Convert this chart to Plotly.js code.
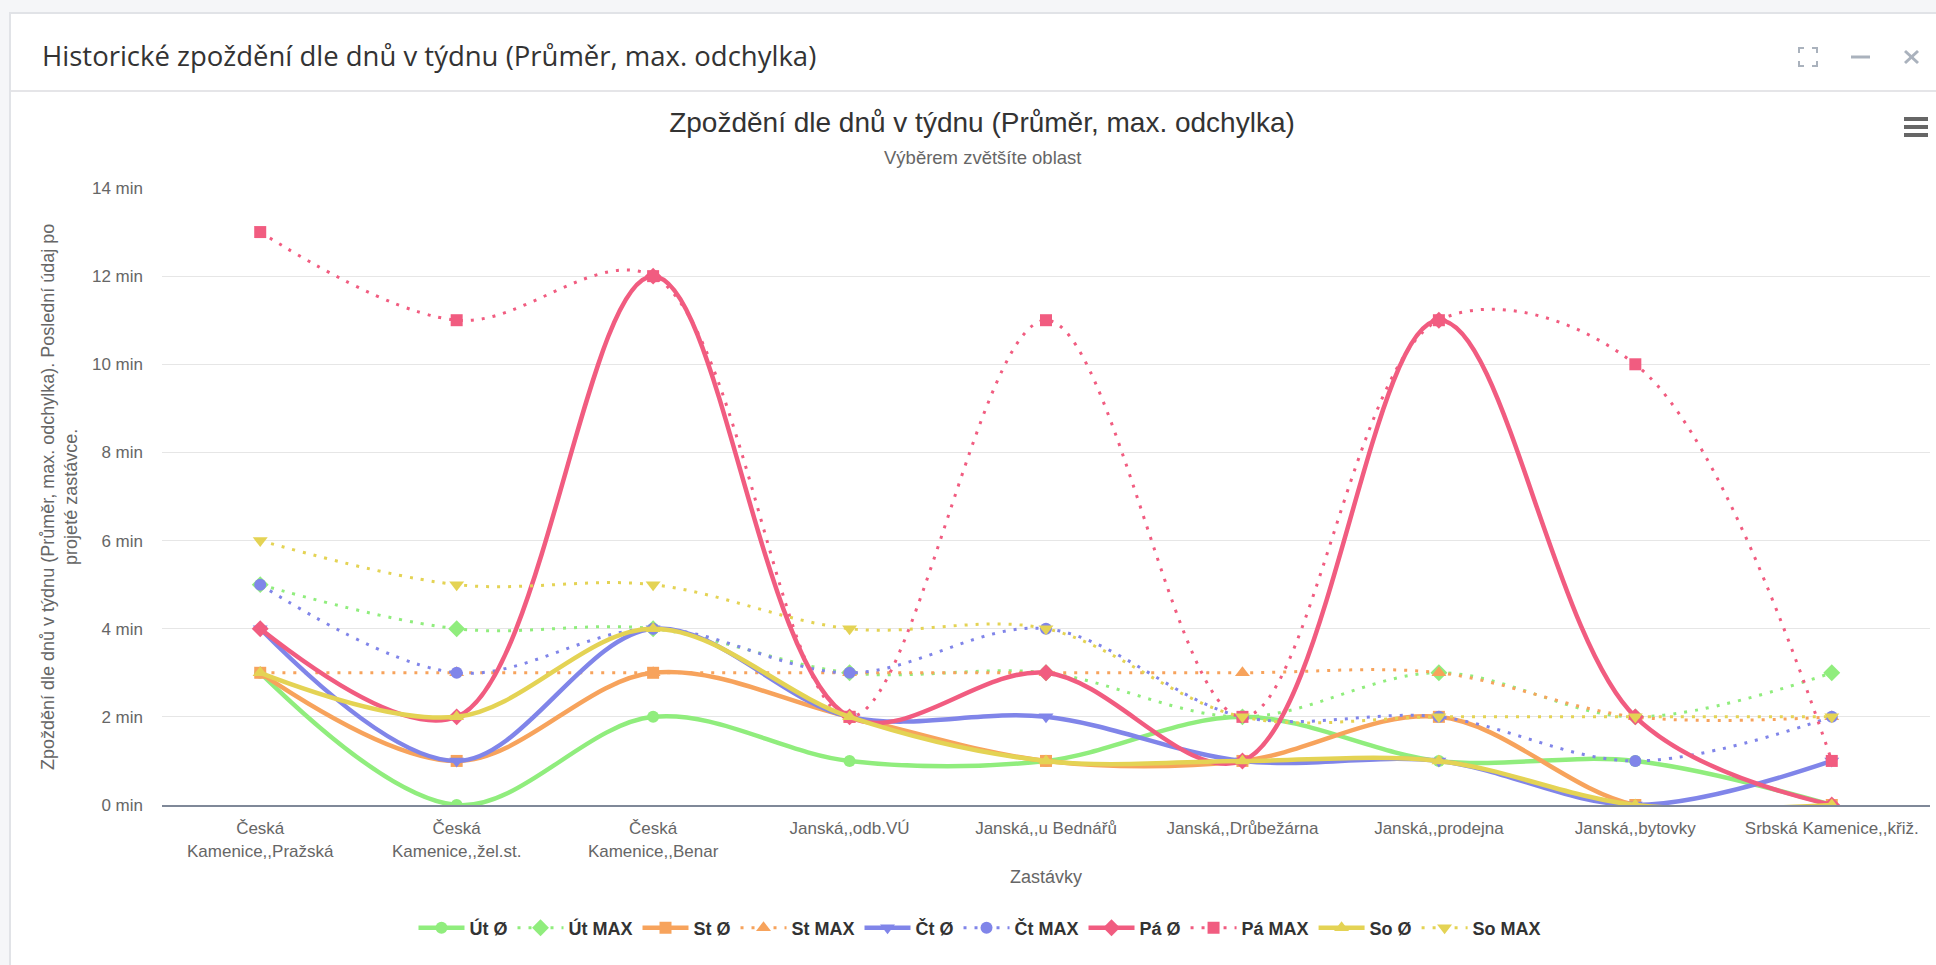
<!DOCTYPE html>
<html>
<head>
<meta charset="utf-8">
<script src="https://cdn.plot.ly/plotly-3.0.1.min.js"></script>
<style>
  html, body { margin: 0; padding: 0; background: #f5f6f8; }
  #chart { width: 1936px; height: 965px; }
</style>
</head>
<body>
<div id="chart"></div>
<script>
// ---- Data ----
const stops = [
  'Česká Kamenice,,Pražská', 'Česká Kamenice,,žel.st.', 'Česká Kamenice,,Benar',
  'Janská,,odb.VÚ', 'Janská,,u Bednářů', 'Janská,,Drůbežárna',
  'Janská,,prodejna', 'Janská,,bytovky', 'Srbská Kamenice,,křiž.'
];
const stopLabels = [
  'Česká<br>Kamenice,,Pražská', 'Česká<br>Kamenice,,žel.st.', 'Česká<br>Kamenice,,Benar',
  'Janská,,odb.VÚ', 'Janská,,u Bednářů', 'Janská,,Drůbežárna',
  'Janská,,prodejna', 'Janská,,bytovky', 'Srbská Kamenice,,křiž.'
];
const seriesNames = ['Út Ø', 'Út MAX', 'St Ø', 'St MAX', 'Čt Ø', 'Čt MAX', 'Pá Ø', 'Pá MAX', 'So Ø', 'So MAX'];
const utAvg = [3, 0, 2, 1, 1, 2, 1, 1, 0];
const utMax = [5, 4, 4, 3, 3, 2, 3, 2, 3];
const stAvg = [3, 1, 3, 2, 1, 1, 2, 0, 0];
const stMax = [3, 3, 3, 3, 3, 3, 3, 2, 2];
const ctAvg = [4, 1, 4, 2, 2, 1, 1, 0, 1];
const ctMax = [5, 3, 4, 3, 4, 2, 2, 1, 2];
const paAvg = [4, 2, 12, 2, 3, 1, 11, 2, 0];
const paMax = [13, 11, 12, 2, 11, 2, 11, 10, 1];
const soAvg = [3, 2, 4, 2, 1, 1, 1, 0, 0];
const soMax = [6, 5, 5, 4, 4, 2, 2, 2, 2];
const yTicks = [0, 2, 4, 6, 8, 10, 12, 14];
const yTickLabels = ['0 min', '2 min', '4 min', '6 min', '8 min', '10 min', '12 min', '14 min'];

// ---- Styles ----
const colors = ['#90ed7d', '#90ed7d', '#f7a35c', '#f7a35c', '#8085e9', '#8085e9', '#f15c80', '#f15c80', '#e4d354', '#e4d354'];
const symbols = ['circle', 'diamond', 'square', 'triangle-up', 'triangle-down', 'circle', 'diamond', 'square', 'triangle-up', 'triangle-down'];
const symbolSizes = { 'circle': 12, 'diamond': 13, 'square': 12, 'triangle-up': 13, 'triangle-down': 13 };
const values = [utAvg, utMax, stAvg, stMax, ctAvg, ctMax, paAvg, paMax, soAvg, soMax];

const W = 1936, H = 965;
const M = { l: 162, r: 6, t: 188, b: 160 };
const pw = W - M.l - M.r, ph = H - M.t - M.b;
const px = x => (x - M.l) / pw;
const py = y => (H - M.b - y) / ph;

const FONT = 'Liberation Sans, Arial, Helvetica, sans-serif';

const traces = values.map((v, i) => {
  const isMax = i % 2 === 1;
  return {
    type: 'scatter',
    mode: 'lines+markers',
    name: seriesNames[i],
    x: stops,
    y: v,
    line: {
      shape: 'spline', smoothing: 1,
      color: colors[i],
      width: isMax ? 3 : 4.5,
      dash: isMax ? '3px,8px' : 'solid'
    },
    marker: {
      symbol: symbols[i],
      color: colors[i],
      size: symbolSizes[symbols[i]],
      line: { width: 0 }
    },
    hoverinfo: 'x+y+name'
  };
});

const iconCol = '#aab2bd';
const line = (x0, y0, x1, y1, color, width) => ({
  type: 'line', xref: 'paper', yref: 'paper',
  x0: px(x0), y0: py(y0), x1: px(x1), y1: py(y1),
  line: { color: color, width: width }
});
const pathShape = (pts, color, width) => ({
  type: 'path', xref: 'paper', yref: 'paper',
  path: pts.map((p, k) => (k === 0 ? 'M' : 'L') + px(p[0]) + ',' + py(p[1])).join(' '),
  line: { color: color, width: width }
});

const shapes = [
  { type: 'rect', xref: 'paper', yref: 'paper', layer: 'below',
    x0: px(10), x1: px(1950), y0: py(13), y1: py(980),
    fillcolor: '#ffffff', line: { color: '#e1e3e7', width: 2 } },
  { type: 'line', xref: 'paper', yref: 'paper', layer: 'below',
    x0: px(11), x1: px(1936), y0: py(91), y1: py(91),
    line: { color: '#dcdde0', width: 1.5 } },
  pathShape([[1799, 53], [1799, 48], [1804, 48]], iconCol, 2),
  pathShape([[1812, 48], [1817, 48], [1817, 53]], iconCol, 2),
  pathShape([[1799, 61], [1799, 66], [1804, 66]], iconCol, 2),
  pathShape([[1812, 66], [1817, 66], [1817, 61]], iconCol, 2),
  line(1851, 57, 1870, 57, iconCol, 3),
  line(1905, 51, 1918, 63, iconCol, 3),
  line(1905, 63, 1918, 51, iconCol, 3),
  line(1904, 119, 1928, 119, '#666666', 4),
  line(1904, 127, 1928, 127, '#666666', 4),
  line(1904, 135, 1928, 135, '#666666', 4)
];

const annotations = [
  { text: 'Historické zpoždění dle dnů v týdnu (Průměr, max. odchylka)',
    xref: 'paper', yref: 'paper', x: px(40), y: py(55), xanchor: 'left', yanchor: 'middle',
    showarrow: false, font: { family: 'Open Sans, sans-serif', size: 27.5, color: '#333333' } },
  { text: 'Výběrem zvětšíte oblast',
    xref: 'paper', yref: 'paper', x: px(982), y: py(157), xanchor: 'center', yanchor: 'middle',
    showarrow: false, font: { family: FONT, size: 18.5, color: '#666666' } },
  { text: 'Zpoždění dle dnů v týdnu (Průměr, max. odchylka). Poslední údaj po<br>projeté zastávce.',
    xref: 'paper', yref: 'paper', x: px(59), y: py(497), xanchor: 'center', yanchor: 'middle',
    textangle: -90, align: 'center', showarrow: false,
    font: { family: FONT, size: 18, color: '#666666' } },
  { text: 'Zastávky',
    xref: 'paper', yref: 'paper', x: px(1046), y: py(877), xanchor: 'center', yanchor: 'middle',
    showarrow: false, font: { family: FONT, size: 18, color: '#666666' } }
];

const layout = {
  width: W, height: H,
  margin: { l: M.l, r: M.r, t: M.t, b: M.b, pad: 0, autoexpand: false },
  paper_bgcolor: '#f5f6f8',
  plot_bgcolor: '#ffffff',
  font: { family: FONT, color: '#666666' },
  title: {
    text: 'Zpoždění dle dnů v týdnu (Průměr, max. odchylka)',
    font: { family: FONT, size: 28, color: '#333333' },
    xref: 'container', yref: 'container',
    x: 982 / W, y: 1 - 122 / H, xanchor: 'center', yanchor: 'middle'
  },
  xaxis: {
    type: 'category',
    range: [-0.5, stops.length - 0.5],
    tickmode: 'array', tickvals: stops, ticktext: stopLabels,
    tickangle: 0,
    tickfont: { family: FONT, size: 17, color: '#666666' },
    showgrid: false, zeroline: false,
    showline: true, linecolor: '#7f8898', linewidth: 2,
    ticks: '', ticklabelstandoff: 7,
    automargin: false,
    fixedrange: true
  },
  yaxis: {
    range: [0, 14],
    tickmode: 'array', tickvals: yTicks, ticktext: yTickLabels,
    tickfont: { family: FONT, size: 17, color: '#666666' },
    showgrid: true, gridcolor: '#e6e6e6', gridwidth: 1,
    zeroline: false, showline: false,
    ticks: '', ticklabelstandoff: 18,
    automargin: false,
    fixedrange: true
  },
  showlegend: true,
  legend: {
    orientation: 'h',
    xref: 'container', x: 980 / W, xanchor: 'center',
    yref: 'container', y: 1 - 928 / H, yanchor: 'middle',
    font: { family: FONT, size: 18, color: '#333333', weight: 'bold' },
    bgcolor: 'rgba(0,0,0,0)',
    itemwidth: 46
  },
  shapes: shapes,
  annotations: annotations
};

Plotly.newPlot('chart', traces, layout, { displayModeBar: false, responsive: false });
</script>
</body>
</html>
